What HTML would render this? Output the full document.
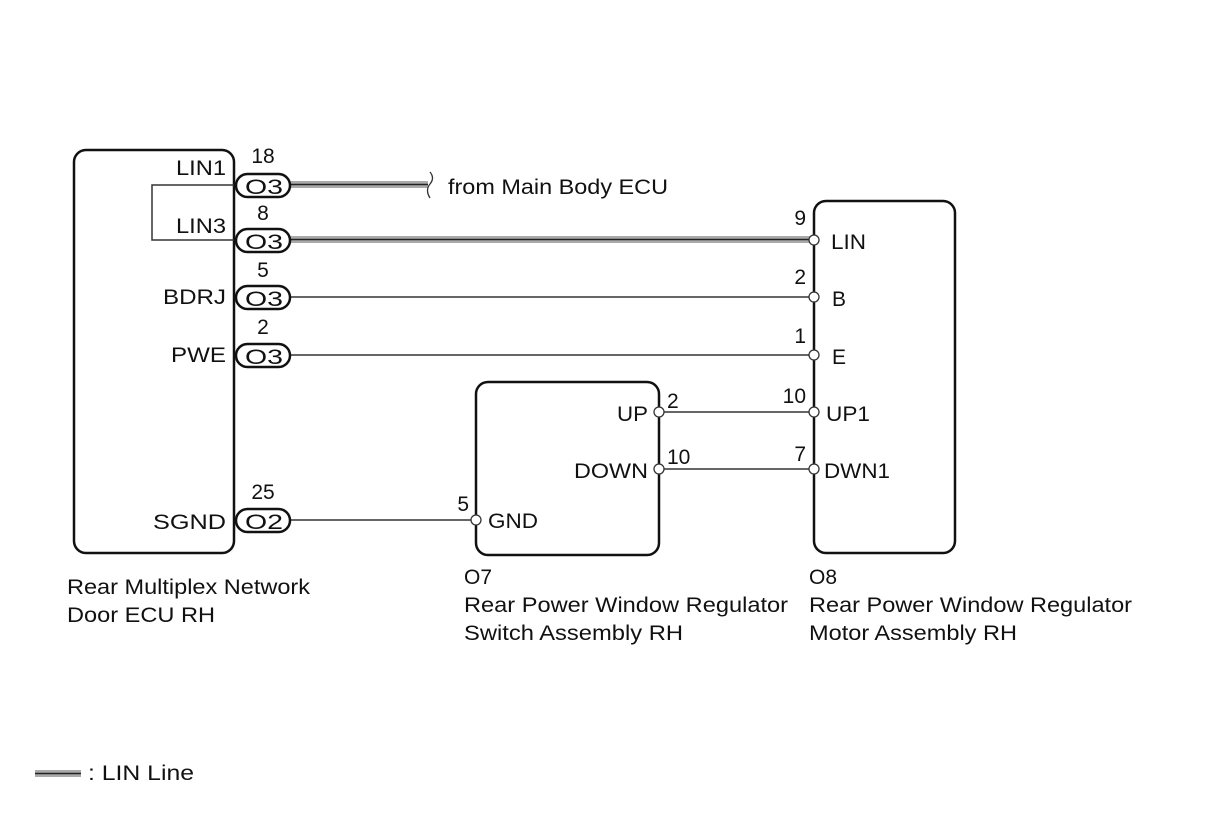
<!DOCTYPE html>
<html><head><style>body{margin:0;background:#fff}svg{display:block}text{font-family:"Liberation Sans",sans-serif;font-size:21px;fill:#111}</style></head><body>
<svg width="1210" height="818" viewBox="0 0 1210 818">
<g fill="none" stroke="#111" stroke-width="2.5">
<rect x="74" y="150" width="160" height="403" rx="12"/>
<rect x="814" y="201" width="141" height="352" rx="12"/>
<rect x="476" y="382" width="183" height="173" rx="12"/>
</g>
<path d="M234 185H152V240H234" fill="none" stroke="#333" stroke-width="1.5"/>
<g>
<rect x="290" y="181" width="138" height="7" fill="#aaa"/>
<line x1="290" y1="184.5" x2="428" y2="184.5" stroke="#222" stroke-width="1.5"/>
<rect x="290" y="236" width="524" height="7" fill="#aaa"/>
<line x1="290" y1="239.5" x2="814" y2="239.5" stroke="#222" stroke-width="1.5"/>
</g>
<path d="M430 172q5 6 0 12q-5 6 0 14" fill="none" stroke="#333" stroke-width="1.3"/>
<g stroke="#333" stroke-width="1.5">
<line x1="290" y1="297" x2="814" y2="297"/>
<line x1="290" y1="355" x2="814" y2="355"/>
<line x1="290" y1="520" x2="476" y2="520"/>
<line x1="659" y1="412" x2="814" y2="412"/>
<line x1="659" y1="469" x2="814" y2="469"/>
</g>
<g fill="#fff" stroke="#111" stroke-width="2.5">
<rect x="236" y="174" width="54" height="23" rx="11.5"/>
<rect x="236" y="229" width="54" height="23" rx="11.5"/>
<rect x="236" y="286" width="54" height="23" rx="11.5"/>
<rect x="236" y="344" width="54" height="23" rx="11.5"/>
<rect x="236" y="509" width="54" height="23" rx="11.5"/>
</g>
<g fill="#fff" stroke="#333" stroke-width="1.3">
<circle cx="814" cy="240" r="5"/><circle cx="814" cy="297" r="5"/><circle cx="814" cy="355" r="5"/>
<circle cx="814" cy="412" r="5"/><circle cx="814" cy="469" r="5"/>
<circle cx="659" cy="412" r="5"/><circle cx="659" cy="469" r="5"/><circle cx="476" cy="520" r="5"/>
</g>
<g>
<text x="245" y="194" textLength="38" lengthAdjust="spacingAndGlyphs">O3</text>
<text x="245" y="249" textLength="38" lengthAdjust="spacingAndGlyphs">O3</text>
<text x="245" y="306" textLength="38" lengthAdjust="spacingAndGlyphs">O3</text>
<text x="245" y="364" textLength="38" lengthAdjust="spacingAndGlyphs">O3</text>
<text x="245" y="529" textLength="38" lengthAdjust="spacingAndGlyphs">O2</text>
</g>
<g text-anchor="middle">
<text x="263" y="163">18</text><text x="263" y="220">8</text><text x="263" y="277">5</text><text x="263" y="334">2</text><text x="263" y="499">25</text>
</g>
<text x="176" y="175" textLength="50" lengthAdjust="spacingAndGlyphs">LIN1</text>
<text x="176" y="233" textLength="50" lengthAdjust="spacingAndGlyphs">LIN3</text>
<text x="163" y="304" textLength="63" lengthAdjust="spacingAndGlyphs">BDRJ</text>
<text x="171" y="362" textLength="55" lengthAdjust="spacingAndGlyphs">PWE</text>
<text x="153" y="529" textLength="73" lengthAdjust="spacingAndGlyphs">SGND</text>
<text x="617" y="421" textLength="31" lengthAdjust="spacingAndGlyphs">UP</text>
<text x="574" y="478" textLength="74" lengthAdjust="spacingAndGlyphs">DOWN</text>
<g text-anchor="end">
<text x="806" y="225">9</text><text x="806" y="284">2</text><text x="806" y="343">1</text><text x="806" y="403">10</text><text x="806" y="461">7</text>
<text x="469" y="511">5</text>
</g>
<text x="448" y="194" textLength="220" lengthAdjust="spacingAndGlyphs">from Main Body ECU</text>
<text x="831" y="249" textLength="35" lengthAdjust="spacingAndGlyphs">LIN</text>
<text x="832" y="306">B</text><text x="832" y="364">E</text>
<text x="826" y="421" textLength="44" lengthAdjust="spacingAndGlyphs">UP1</text>
<text x="824" y="478" textLength="66" lengthAdjust="spacingAndGlyphs">DWN1</text>
<text x="667" y="408">2</text><text x="667" y="464">10</text>
<text x="488" y="528" textLength="50" lengthAdjust="spacingAndGlyphs">GND</text>
<text x="67" y="594" textLength="243" lengthAdjust="spacingAndGlyphs">Rear Multiplex Network</text><text x="67" y="622" textLength="148" lengthAdjust="spacingAndGlyphs">Door ECU RH</text>
<text x="464" y="584">O7</text><text x="464" y="612" textLength="324" lengthAdjust="spacingAndGlyphs">Rear Power Window Regulator</text><text x="464" y="640" textLength="219" lengthAdjust="spacingAndGlyphs">Switch Assembly RH</text>
<text x="809" y="584">O8</text><text x="809" y="612" textLength="323" lengthAdjust="spacingAndGlyphs">Rear Power Window Regulator</text><text x="809" y="640" textLength="208" lengthAdjust="spacingAndGlyphs">Motor Assembly RH</text>
<rect x="35" y="770" width="46" height="7" fill="#aaa"/>
<line x1="35" y1="773.5" x2="81" y2="773.5" stroke="#222" stroke-width="1.5"/>
<text x="88" y="780" textLength="106" lengthAdjust="spacingAndGlyphs">: LIN Line</text>
</svg>
</body></html>
